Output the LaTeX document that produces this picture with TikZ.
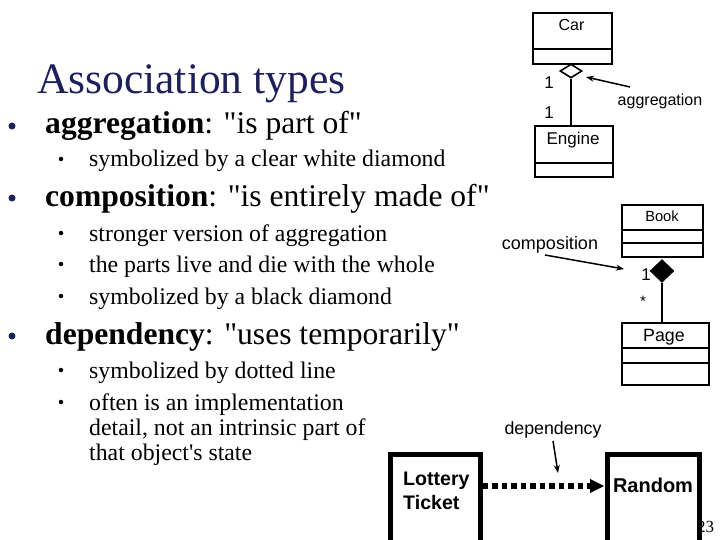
\documentclass[tikz,border=0pt]{standalone}
\usepackage{fontspec}
\setmainfont{Liberation Serif}[Ligatures=TeXOff]
\setsansfont{Liberation Sans}
\usetikzlibrary{shapes.geometric,arrows.meta}
\definecolor{navy}{HTML}{1C2060}
\tikzset{
  uml/.style={draw, line width=1.6pt, rectangle, anchor=north west, inner sep=0pt},
  thickbox/.style={draw, line width=4.5pt, rectangle, anchor=north west, inner sep=0pt},
  lbl/.style={font=\sffamily\fontsize{16}{18}\selectfont, inner sep=0pt},
  boldlbl/.style={anchor=base west, inner sep=0pt, font=\sffamily\bfseries\fontsize{19.6}{24}\selectfont},
  main/.style={anchor=base west, inner sep=0pt, font=\fontsize{31.6}{34}\selectfont},
  sub/.style={anchor=base west, inner sep=0pt, font=\fontsize{23.8}{26}\selectfont},
  mainbullet/.style={circle, fill=navy, inner sep=0pt, minimum size=7pt},
  subbullet/.style={circle, fill=black, inner sep=0pt, minimum size=4.5pt},
  pointer/.style={line width=1.5pt, -{Stealth[length=8pt,width=6pt]}},
}
\begin{document}
\begin{tikzpicture}[x=1pt,y=-1pt]
\useasboundingbox (0,0) rectangle (720,540);
% Title
\node[anchor=base west, inner sep=0pt, text=navy, font=\fontsize{43.5}{46}\selectfont] (title) at (37,94) {Association types};
% bullets
\node[mainbullet] (b1) at (12,126) {};
\node[main] (t1) at (45,134) {\textbf{aggregation}: "is part of"};
\node[subbullet] (s11) at (61,159) {};
\node[sub] (t11) at (89,167) {symbolized by a clear white diamond};
\node[mainbullet] (b2) at (12,198) {};
\node[main] (t2) at (45,207) {\textbf{composition}: "is entirely made of"};
\node[subbullet] (s21) at (61,233) {};
\node[sub] (t21) at (89,241) {stronger version of aggregation};
\node[subbullet] (s22) at (61,264) {};
\node[sub] (t22) at (89,272) {the parts live and die with the whole};
\node[subbullet] (s23) at (61,296) {};
\node[sub] (t23) at (89,304) {symbolized by a black diamond};
\node[mainbullet] (b3) at (12,336) {};
\node[main] (t3) at (45,344) {\textbf{dependency}: "uses temporarily"};
\node[subbullet] (s31) at (61,370) {};
\node[sub] (t31) at (89,378) {symbolized by dotted line};
\node[subbullet] (s32) at (61,402) {};
\node[sub] (t32) at (89,410) {often is an implementation};
\node[sub] (t33) at (89,435) {detail, not an intrinsic part of};
\node[sub] (t34) at (89,460) {that object's state};

% Car / Engine
\node[uml, minimum width=79pt, minimum height=51pt] (car) at (532,12) {};
\draw[line width=1.6pt] (532,49) -- (611,49);
\node[lbl] (carl) at (571.5,25) {Car};
\node[draw, line width=1.6pt, fill=white, diamond, minimum width=22pt, minimum height=14pt, inner sep=0pt] (aggd) at (571,71) {};
\node[uml, minimum width=78pt, minimum height=51pt] (engine) at (534,125) {};
\draw[line width=1.6pt] (534,163) -- (612,163);
\node[lbl, font=\sffamily\fontsize{17}{19}\selectfont] (engl) at (573,140) {Engine};
\draw[line width=1.6pt] (aggd.south) -- (engine.north -| aggd.south);
\node[lbl, font=\sffamily\fontsize{17}{19}\selectfont] (one1) at (549,83) {1};
\node[lbl, font=\sffamily\fontsize{17}{19}\selectfont] (one2) at (549,113) {1};
\node[lbl] (aggl) at (660,101) {aggregation};
\coordinate (aggs) at (630,87);
\coordinate (agge) at (586,77);
\draw[pointer] (aggs) -- (agge);

% Book / Page
\node[uml, minimum width=81pt, minimum height=52pt] (book) at (621,204) {};
\draw[line width=1.6pt] (621,230) -- (702,230);
\draw[line width=1.6pt] (621,243) -- (702,243);
\node[lbl, font=\sffamily\fontsize{14.7}{16}\selectfont] (bookl) at (662,216) {Book};
\node[draw, line width=1.6pt, fill=black, diamond, minimum width=23pt, minimum height=22pt, inner sep=0pt] (compd) at (662,271) {};
\node[uml, minimum width=87pt, minimum height=62pt] (page) at (621,322) {};
\draw[line width=1.6pt] (621,348) -- (708,348);
\draw[line width=1.6pt] (621,363) -- (708,363);
\node[lbl, font=\sffamily\fontsize{17.8}{19}\selectfont] (pagel) at (664,337) {Page};
\draw[line width=1.6pt] (compd.south) -- (page.north -| compd.south);
\node[lbl, font=\sffamily\fontsize{17}{19}\selectfont] (one3) at (646,275) {1};
\node[lbl, font=\sffamily\fontsize{15}{17}\selectfont] (star) at (643,301) {*};
\node[lbl, font=\sffamily\fontsize{18}{20}\selectfont] (compl) at (550,245) {composition};
\coordinate (comps) at (545,255);
\coordinate (compe) at (624,269);
\draw[pointer] (comps) -- (compe);

% Lottery / Random
\node[thickbox, minimum width=90pt, minimum height=100pt] (lottery) at (388,452) {};
\node[boldlbl] (lotl1) at (403,485) {Lottery};
\node[boldlbl] (lotl2) at (403,509) {Ticket};
\node[thickbox, minimum width=92pt, minimum height=100pt] (random) at (605,452) {};
\node[inner sep=0pt, font=\sffamily\bfseries\fontsize{20}{22}\selectfont] (randl) at (653,485) {Random};
\draw[line width=5.5pt, dash pattern=on 5.5pt off 4pt, shorten >=9pt] (lottery.east |- 0,486) -- (random.west |- 0,486);
\fill (random.west |- 0,486) ++(-1,0) -- ++(-14,-7) -- ++(0,14) -- cycle;
\node[lbl, font=\sffamily\fontsize{17.8}{20}\selectfont] (depl) at (553,430) {dependency};
\coordinate (deps) at (553,441);
\coordinate (depe) at (558,473);
\draw[pointer] (deps) -- (depe);
\node[anchor=base west, inner sep=0pt, font=\fontsize{17}{19}\selectfont] (pnum) at (697,532) {23};
\end{tikzpicture}
\end{document}
